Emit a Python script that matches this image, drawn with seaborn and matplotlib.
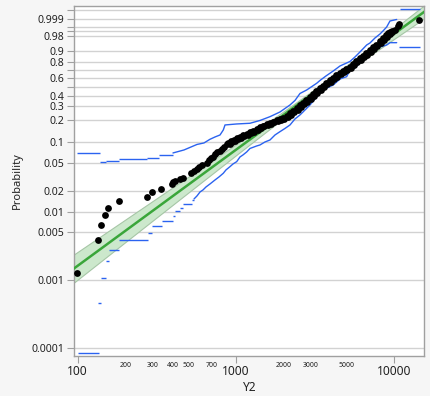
import numpy as np
import matplotlib
matplotlib.use("Agg")
import matplotlib.pyplot as plt
import seaborn as sns

y2_vals = [98.6, 135.0, 139.8, 149.5, 155.5, 181.8, 275.8, 294, 335, 393,
           404, 413, 444, 461, 525, 545, 567, 590, 612, 655,
           678, 698, 722, 740, 761, 796, 819, 843, 877, 900,
           934, 976, 1019, 1065, 1112, 1174, 1232, 1287, 1358, 1425,
           1489, 1571, 1649, 1722, 1817, 1907, 1993, 2103, 2207, 2305,
           2433, 2553, 2667, 2786, 2953, 3085, 3223, 3416, 3568, 3728,
           3954, 4129, 4314, 4572, 4777, 4991, 5289, 5526, 5774, 6119,
           6394, 6680, 7079, 7396, 7727, 8191, 8557, 8940, 9244, 9475,
           9826, 10190, 10600, 10800, 14520,
           # dense middle part, lower-right edge of the black band
           924, 954, 993, 1037, 1084, 1132, 1189, 1251, 1309, 1375,
           1447, 1515, 1590, 1674, 1752, 1840, 1936, 2028, 2129, 2240,
           2345, 2463, 2592, 2713, 2835, 2983, 3139, 3279, 3451, 3631,
           3793, 3993, 4203, 4390, 4619, 4860, 5078, 5344, 5622, 5875,
           6182, 6505, 6796, 7152, 7525, 7862, 8274, 8707, 9097, 9455,
           9733]
y2_prob = [0.00127, 0.00383, 0.00636, 0.00883, 0.0114, 0.0142, 0.0165, 0.0191, 0.0214, 0.0250,
           0.0266, 0.0280, 0.0296, 0.0312, 0.0359, 0.0390, 0.0413, 0.0446, 0.0471, 0.0514,
           0.0552, 0.0590, 0.0626, 0.0673, 0.0718, 0.0754, 0.0805, 0.0859, 0.0931, 0.0977,
           0.1025, 0.1076, 0.1129, 0.1184, 0.1242, 0.1302, 0.1365, 0.1431, 0.1524, 0.1621,
           0.1672, 0.1751, 0.1834, 0.1891, 0.1979, 0.2039, 0.2134, 0.2265, 0.2439, 0.2623,
           0.2836, 0.3070, 0.3290, 0.3523, 0.3868, 0.4128, 0.4453, 0.4815, 0.5084, 0.5444,
           0.5750, 0.6060, 0.6371, 0.6645, 0.6868, 0.7174, 0.7449, 0.7762, 0.8093, 0.8373,
           0.8596, 0.8862, 0.9098, 0.9271, 0.9422, 0.9618, 0.9714, 0.9804, 0.9856, 0.9889,
           0.9905, 0.9913, 0.9952, 0.9970, 0.9988,
           0.0954, 0.1001, 0.1050, 0.1102, 0.1156, 0.1213, 0.1272, 0.1333, 0.1398, 0.1477,
           0.1572, 0.1646, 0.1711, 0.1792, 0.1862, 0.1935, 0.2009, 0.2086, 0.2199, 0.2352,
           0.2531, 0.2729, 0.2953, 0.3180, 0.3406, 0.3695, 0.3998, 0.4290, 0.4634, 0.4950,
           0.5264, 0.5597, 0.5905, 0.6216, 0.6508, 0.6757, 0.7021, 0.7312, 0.7606, 0.7928,
           0.8233, 0.8485, 0.8729, 0.8980, 0.9185, 0.9347, 0.9520, 0.9666, 0.9759, 0.9830,
           0.9872]

# Weibull fit
n_obs = 400
weib_shape = 1.705
weib_scale = 4365

# simultaneous confidence bands: flat pieces at the ends, jagged line in between
upper_seg_from = [98.6, 137.8, 150.4, 182.6, 275.8, 327.0, 10962]
upper_seg_to = [137.8, 150.4, 182.6, 275.8, 327.0, 401.0, 14680]
upper_seg_p = [0.06996, 0.05259, 0.05489, 0.05748, 0.06059, 0.06554, 0.99993]
upper_x = [401, 471, 531, 569, 630, 688, 740, 796, 835, 856,
           1015, 1232, 1425, 1649, 1907, 2207, 2373, 2553, 2816, 3256,
           3416, 3728, 4147, 4573, 5041, 5289, 5690, 6119, 6748, 7079,
           7614, 8191, 8557, 9030, 9475, 10447]
upper_p = [0.07065, 0.07791, 0.08729, 0.09313, 0.09773, 0.11004, 0.11841, 0.12617, 0.14768, 0.17246,
           0.17784, 0.18169, 0.19785, 0.22184, 0.25476, 0.31127, 0.35229, 0.42350, 0.46209, 0.54074,
           0.57499, 0.63087, 0.69293, 0.75309, 0.78744, 0.80393, 0.85008, 0.89443, 0.94218, 0.95266,
           0.97304, 0.98405, 0.98976, 0.99473, 0.99839, 0.99885]

lower_seg_from = [100, 135, 140.4, 150.4, 158.5, 182.6, 277.3, 295.3, 340.1, 399.3,
                  412.9, 447.3, 467.3, 531.4, 10850]
lower_seg_to = [136.4, 139.5, 151.1, 157.8, 182.6, 277.3, 295.3, 340.1, 399.3, 412.9,
                447.3, 467.3, 531.4, 544.7, 14680]
lower_seg_p = [0.0000825, 0.000449, 0.001048, 0.001882, 0.002731, 0.00379, 0.00481, 0.00615, 0.00721, 0.00863,
               0.01004, 0.01141, 0.01283, 0.01454, 0.92838]
lower_x = [545, 569, 595, 621, 649, 688, 740, 784, 835, 868,
           920, 962, 1015, 1065, 1112, 1174, 1232, 1358, 1425, 1533,
           1649, 1774, 1907, 2051, 2207, 2373, 2553, 2816, 2953, 3177,
           3416, 3674, 4147, 4573, 5041, 5289, 5690, 6119, 6583, 7079,
           7805, 8191, 9030, 9475, 10447]
lower_p = [0.01529, 0.01692, 0.01935, 0.02069, 0.02288, 0.02530, 0.02891, 0.03196, 0.03615, 0.04035,
           0.04501, 0.04922, 0.05311, 0.06199, 0.06619, 0.07301, 0.08180, 0.08870, 0.09162, 0.10091,
           0.10760, 0.12617, 0.14002, 0.15477, 0.17246, 0.20708, 0.23336, 0.28348, 0.31127, 0.36676,
           0.42565, 0.47347, 0.52034, 0.59354, 0.62215, 0.70521, 0.72937, 0.78744, 0.83024, 0.87767,
           0.92183, 0.93030, 0.94218, 0.95413, 0.95413]

prob_grid = [0.0001, 0.001, 0.005, 0.01, 0.02, 0.05, 0.1, 0.2, 0.3, 0.4,
             0.5, 0.6, 0.7, 0.8, 0.9, 0.98, 0.99, 0.995, 0.999, 0.9999]
prob_labels = ["0.0001", "0.001", "0.005", "0.01", "0.02", "0.05", "0.1", "0.2", "0.3", "0.4",
               "", "0.6", "", "0.8", "0.9", "0.98", "", "", "0.999", ""]
x_major = [100, 1000, 10000]
x_minor = [200, 300, 400, 500, 600, 700, 800, 900,
           2000, 3000, 4000, 5000, 6000, 7000, 8000, 9000]
x_minor_labels = ["200", "300", "400", "500", "", "700", "", "",
                  "2000", "3000", "", "5000", "", "", "", ""]


def weib_fwd(p):
    p = np.clip(np.asarray(p, dtype=float), 1e-12, 1 - 1e-12)
    return np.log(-np.log1p(-p))


def weib_inv(w):
    return -np.expm1(-np.exp(np.asarray(w, dtype=float)))


sns.set_style("white")
plt.rcParams["font.family"] = ["Noto Sans", "DejaVu Sans"]

fig = plt.figure(figsize=(4.3, 3.96), dpi=100, facecolor="#f6f6f6")
ax = fig.add_axes([0.1728, 0.101, 0.8139, 0.8838])
ax.set_facecolor("white")
ax.set_xscale("log")
ax.set_yscale("function", functions=(weib_fwd, weib_inv))

# fitted line with pointwise confidence region
xs = np.geomspace(90, 16000, 300)
w = weib_shape * (np.log(xs) - np.log(weib_scale))
se = np.sqrt((1.1087 + 0.514 * w + 0.6079 * w ** 2) / n_obs)
ax.fill_between(xs, weib_inv(w - 1.96 * se), weib_inv(w + 1.96 * se),
                facecolor="#cce8cc", edgecolor="#a6c6a6", lw=0.8, zorder=2)
sns.lineplot(x=xs, y=weib_inv(w), color="#3aa63a", lw=1.8, ax=ax, zorder=3)

# confidence bands
band_col = "#2b63f0"
ax.hlines(upper_seg_p, upper_seg_from, upper_seg_to, color=band_col, lw=1, zorder=4)
ax.hlines(lower_seg_p, lower_seg_from, lower_seg_to, color=band_col, lw=1, zorder=4)
ax.plot(upper_x, upper_p, color=band_col, lw=1, zorder=4)
ax.plot(lower_x, lower_p, color=band_col, lw=1, zorder=4)

sns.scatterplot(x=y2_vals, y=y2_prob, color="black", s=24, linewidth=0, ax=ax, zorder=5)

ax.set_xlim(95.2, 15620)
ax.set_ylim(7.5e-5, 0.999977)

ax.set_yticks(prob_grid)
ax.set_yticklabels(prob_labels, fontsize=7.6, color="#222222")
ax.set_yticks([], minor=True)
ax.grid(axis="y", color="#d2d2d2", lw=1)
ax.grid(axis="x", visible=False)

ax.set_xticks(x_major)
ax.set_xticklabels([str(v) for v in x_major], fontsize=8.6, color="#222222")
ax.set_xticks(x_minor, minor=True)
ax.set_xticklabels(x_minor_labels, minor=True, fontsize=5, color="#222222")
ax.tick_params(axis="x", which="major", length=5, width=0.8, color="#a0a0a0", pad=1.5)
ax.tick_params(axis="x", which="minor", length=3, width=0.8, color="#a0a0a0", pad=1.5)
ax.tick_params(axis="y", which="major", length=5, width=0.8, color="#a0a0a0", pad=2)
ax.tick_params(left=True, bottom=True)

for sp in ax.spines.values():
    sp.set_color("#a0a0a0")
    sp.set_linewidth(1)

ax.set_xlabel("Y2", fontsize=8.6, color="#222222", labelpad=2)
ax.set_ylabel("Probability", fontsize=8, color="#222222", labelpad=6)

fig.savefig("out.png", dpi=100, facecolor=fig.get_facecolor())
